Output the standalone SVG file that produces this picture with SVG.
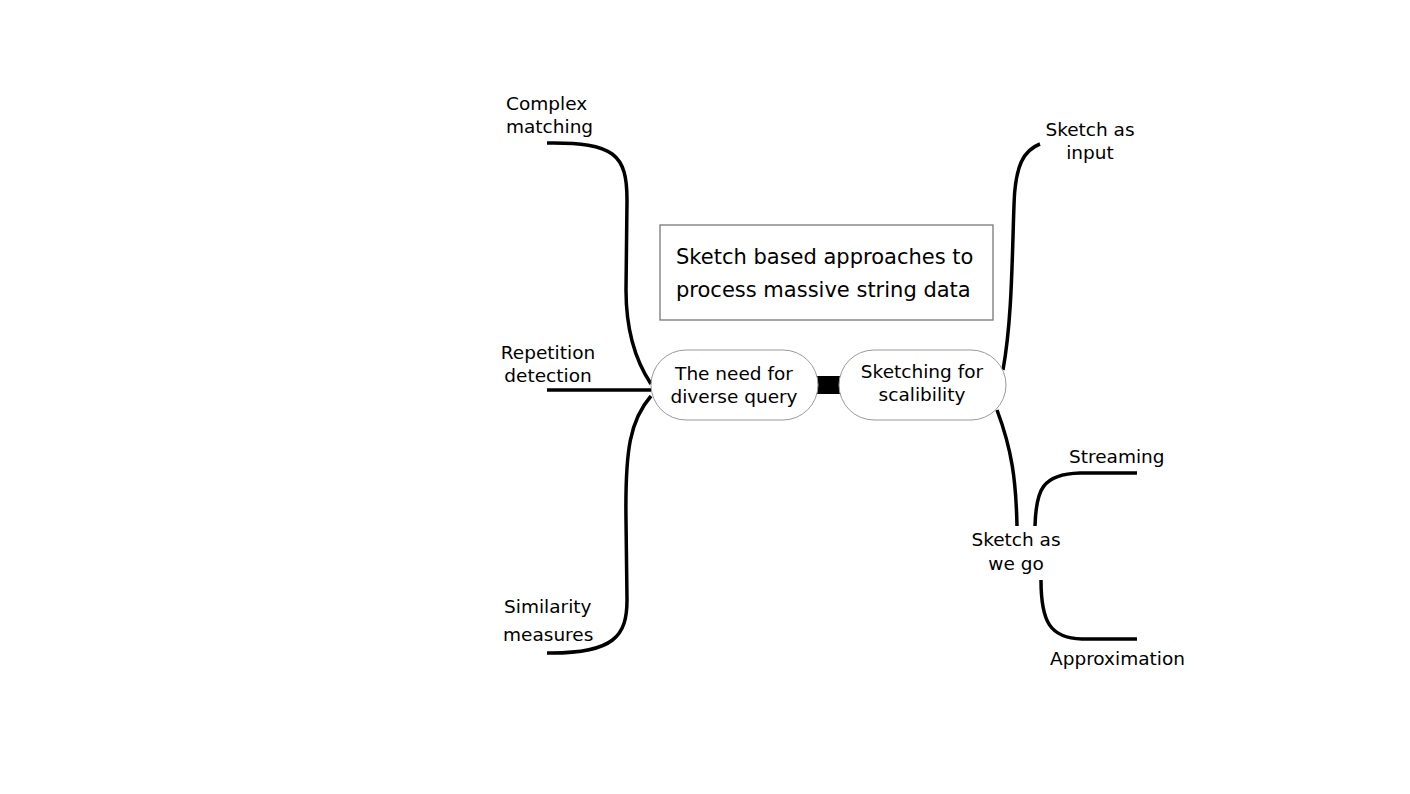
<svg xmlns="http://www.w3.org/2000/svg" width="1410" height="794" viewBox="0 0 1410 794">
<style>
text{font-family:"DejaVu Sans","Liberation Sans",sans-serif;font-size:18.5px;fill:#000}
.c{text-anchor:middle}
.br{fill:none;stroke:#000;stroke-width:3.5;stroke-linecap:butt}
.pill{fill:#fff;stroke:#999;stroke-width:1}
</style>
<rect width="1410" height="794" fill="#fff"/>
<g id="connectors">
<path class="br" d="M547,143 C615,142 627,155 627,200 L626,290 C626,330 635,360 651,384"/>
<path class="br" d="M547,390 L651,390"/>
<path class="br" d="M547,653 C615,654 627,635 627,600 L626,520 C625,450 630,420 651,396"/>
<path class="br" d="M1003,370 C1012,320 1012,260 1014,205 C1015,165 1024,150 1040,144"/>
<path class="br" d="M997,410 C1012,450 1016,480 1017,526"/>
<path class="br" d="M1035,526 C1036,490 1042,474 1080,473 L1137,473"/>
<path class="br" d="M1041,580 C1041,622 1050,638 1082,639 L1137,639"/>
<rect x="816" y="376" width="25" height="18" fill="#000"/>
</g>
<g id="title">
<rect x="660" y="225" width="333" height="95" fill="#fff" stroke="#777" stroke-width="1.3"/>
<text x="676" y="264" style="font-size:21px">Sketch based approaches to</text>
<text x="676" y="297" style="font-size:21px">process massive string data</text>
</g>
<g id="node-diverse">
<rect class="pill" x="651" y="350" width="167" height="70" rx="35"/>
<text class="c" x="734" y="380">The need for</text>
<text class="c" x="734" y="403">diverse query</text>
</g>
<g id="node-scalability">
<rect class="pill" x="839" y="350" width="167" height="70" rx="35"/>
<text class="c" x="922" y="378">Sketching for</text>
<text class="c" x="922" y="401">scalibility</text>
</g>
<g id="complex-matching">
<text x="506" y="110">Complex</text>
<text x="506" y="133">matching</text>
</g>
<g id="repetition-detection">
<text class="c" x="548" y="359">Repetition</text>
<text class="c" x="548" y="382">detection</text>
</g>
<g id="similarity-measures">
<text x="504" y="613">Similarity</text>
<text x="503" y="641">measures</text>
</g>
<g id="sketch-input">
<text class="c" x="1090" y="136">Sketch as</text>
<text class="c" x="1090" y="159">input</text>
</g>
<g id="sketch-we-go">
<text class="c" x="1016" y="546">Sketch as</text>
<text class="c" x="1016" y="570">we go</text>
</g>
<g id="streaming">
<text x="1069" y="463">Streaming</text>
</g>
<g id="approximation">
<text x="1050" y="665">Approximation</text>
</g>
</svg>
